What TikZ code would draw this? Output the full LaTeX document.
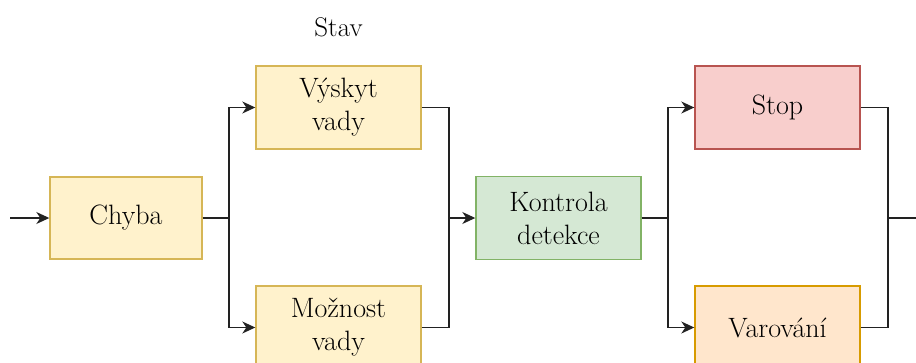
\documentclass[tikz,border=0pt]{standalone}
\usepackage{fontspec}
\usetikzlibrary{arrows.meta}
\definecolor{yfill}{HTML}{FFF2CC}
\definecolor{ydraw}{HTML}{D6B656}
\definecolor{gfill}{HTML}{D5E8D4}
\definecolor{gdraw}{HTML}{82B366}
\definecolor{rfill}{HTML}{F8CECC}
\definecolor{rdraw}{HTML}{B85450}
\definecolor{ofill}{HTML}{FFE6CC}
\definecolor{odraw}{HTML}{D79B00}
\definecolor{wire}{HTML}{222222}
\newcommand\labelfont[1]{\fontsize{#1}{33}\selectfont\addfontfeature{FakeBold=1.5}}
\tikzset{
  box/.style={draw, line width=1.4pt, minimum width=165pt, minimum height=83pt,
    inner sep=0pt, align=center, font=\labelfont{28}},
  yellowbox/.style={box, fill=yfill, draw=ydraw},
  greenbox/.style={box, fill=gfill, draw=gdraw},
  redbox/.style={box, fill=rfill, draw=rdraw},
  orangebox/.style={box, fill=ofill, draw=odraw},
  wireline/.style={draw=wire, line width=1.3pt},
  arr/.style={wireline, -{Stealth[length=13pt, width=12pt, inset=4pt]}}
}
\begin{document}
\begin{tikzpicture}[x=1pt, y=-1pt]
  \useasboundingbox (0,0) rectangle (916,362);
  \begin{scope}
  \clip (0,0) rectangle (916,362);

  % state label
  \node[font=\labelfont{27}, anchor=base] (stav) at (338.5,36) {Stav};

  % blocks
  \node[yellowbox, minimum width=152pt, minimum height=82pt] (chyba) at (126,218) {Chyba};
  \node[yellowbox] (vyskyt) at (338.5,107.5) {Výskyt\\vady};
  \node[yellowbox] (moznost) at (338.5,327.5) {Možnost\\vady};
  \node[greenbox] (kontrola) at (558.5,218) {Kontrola\\detekce};
  \node[redbox] (stop) at (777.5,107.5) {Stop};
  \node[orangebox] (varovani) at (777.5,327.5) {Varování};

  % branch and join points
  \coordinate (in) at (10,218);
  \coordinate (j1) at (229,218);
  \coordinate (j2) at (449,218);
  \coordinate (j3) at (668,218);
  \coordinate (j4) at (888,218);
  \coordinate (out) at (935,218);

  % connectors
  \draw[arr] (in) -- (chyba);
  \draw[wireline] (chyba.east) -- (j1);
  \draw[arr] (j1) |- (vyskyt.west);
  \draw[arr] (j1) |- (moznost.west);
  \draw[wireline] (vyskyt.east) -| (j2);
  \draw[wireline] (moznost.east) -| (j2);
  \draw[arr] (j2) -- (kontrola.west);
  \draw[wireline] (kontrola.east) -- (j3);
  \draw[arr] (j3) |- (stop.west);
  \draw[arr] (j3) |- (varovani.west);
  \draw[wireline] (stop.east) -| (j4);
  \draw[wireline] (varovani.east) -| (j4);
  \draw[arr] (j4) -- (out);
  \end{scope}
\end{tikzpicture}
\end{document}
